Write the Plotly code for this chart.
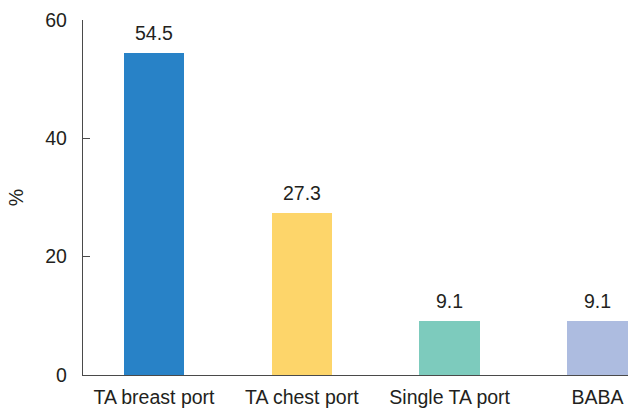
import plotly.graph_objects as go

# Share of each port approach (%)
categories = ["TA breast port", "TA chest port", "Single TA port", "BABA"]
values = [54.5, 27.3, 9.1, 9.1]
bar_colors = ["#2882c7", "#fdd56a", "#7dcbbd", "#adbce0"]
y_ticks = [0, 20, 40, 60]

FONT = "Liberation Sans, Arial, Helvetica, sans-serif"
FONT_SIZE = 19.5
TEXT_COLOR = "#231f20"
AXIS_COLOR = "#4a4a4a"

fig = go.Figure(
    go.Bar(
        x=categories,
        y=values,
        marker=dict(color=bar_colors, line=dict(width=0)),
        width=0.41,
        hoverinfo="skip",
    )
)

# value labels above each bar
for cat, val in zip(categories, values):
    fig.add_annotation(
        x=cat, y=val, text=f"{val:.1f}", showarrow=False,
        yanchor="bottom", yshift=7,
        font=dict(family=FONT, size=FONT_SIZE, color=TEXT_COLOR),
    )

fig.update_layout(
    width=635, height=411,
    margin=dict(l=83, r=7, t=20, b=36),
    plot_bgcolor="white", paper_bgcolor="white",
    showlegend=False,
    font=dict(family=FONT, size=FONT_SIZE, color=TEXT_COLOR),
    bargap=0,
)

fig.update_xaxes(
    range=[-0.48, 3.206],
    automargin=False,
    showline=True, linecolor=AXIS_COLOR, linewidth=1.3,
    ticks="", showgrid=False, zeroline=False,
    tickfont=dict(family=FONT, size=FONT_SIZE, color=TEXT_COLOR),
    ticklabelstandoff=4,
)

fig.update_yaxes(
    range=[0, 60],
    automargin=False,
    tickvals=y_ticks,
    showline=True, linecolor=AXIS_COLOR, linewidth=1.3,
    ticks="inside", ticklen=7, tickwidth=1.3, tickcolor=AXIS_COLOR,
    showgrid=False, zeroline=False,
    tickfont=dict(family=FONT, size=FONT_SIZE, color=TEXT_COLOR),
    ticklabelstandoff=11,
    title=dict(text="%", standoff=16, font=dict(family=FONT, size=FONT_SIZE, color=TEXT_COLOR)),
)

fig.write_html("out.html")
